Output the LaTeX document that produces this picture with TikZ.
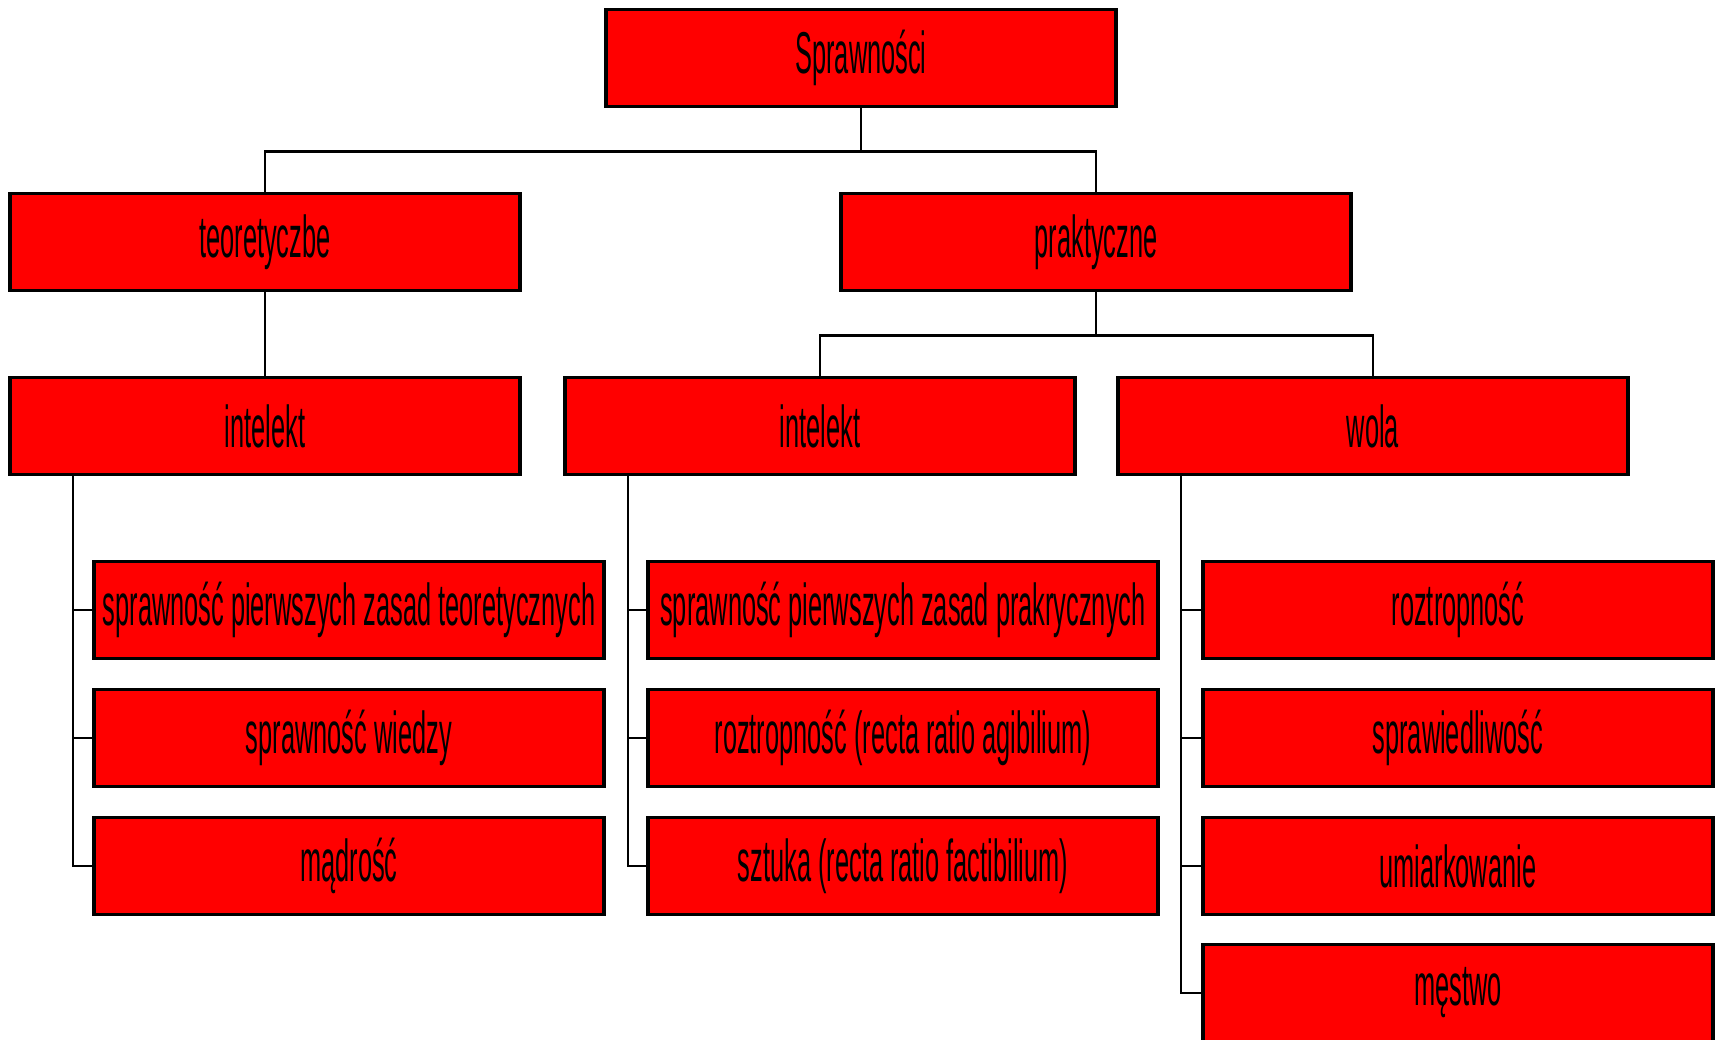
\documentclass[tikz,border=0pt]{standalone}
\usepackage{fontspec}
\newfontfamily\narrowfont{Liberation Sans}[FakeStretch=0.43]
\usepackage{tikz}

\begin{document}
\begin{tikzpicture}
			\tikzstyle{rect} = [rectangle, minimum width=5.1cm, minimum height=0.976cm, inner sep=0pt, text centered, draw=black, line width=0.9pt, fill=red, font=\narrowfont\fontsize{16.8}{18}\selectfont]
			\tikzstyle{line} = [line width=0.7pt]

			\useasboundingbox (0,0) rectangle (17.19,10.40);

			\node (spr) at (8.61,9.82) [rect] {Sprawności};
			\node (teo) at (2.65,7.98) [rect] {teoretyczbe};
			\node (pra) at (10.96,7.98) [rect] {praktyczne};
			\node (int1) at (2.65,6.14) [rect] {intelekt};
			\node (int2) at (8.20,6.14) [rect] {intelekt};
			\node (wola) at (13.73,6.14) [rect] {wola};

			\node (t1) at (3.49,4.30) [rect] {sprawność pierwszych zasad teoretycznych};
			\node (t2) at (3.49,3.02) [rect] {sprawność wiedzy};
			\node (t3) at (3.49,1.74) [rect] {mądrość};

			\node (p1) at (9.03,4.30) [rect] {sprawność pierwszych zasad prakrycznych};
			\node (p2) at (9.03,3.02) [rect] {roztropność (recta ratio agibilium)};
			\node (p3) at (9.03,1.74) [rect] {sztuka (recta ratio factibilium)};

			\node (w1) at (14.58,4.30) [rect] {roztropność};
			\node (w2) at (14.58,3.02) [rect] {sprawiedliwość};
			\node (w3) at (14.58,1.74) [rect] {umiarkowanie};
			\node (w4) at (14.58,0.47) [rect] {męstwo};

			\draw [line] (spr.south) -- ++(0,-0.43) -| (teo.north);
			\draw [line] (spr.south) ++(0,-0.43) -| (pra.north);
			\draw [line] (teo) -- (int1);
			\draw [line] (pra.south) -- ++(0,-0.43) -| (int2.north);
			\draw [line] (pra.south) ++(0,-0.43) -| (wola.north);

			\foreach \leaf in {t1,t2,t3}
				\draw [line] (int1.south west) ++(0.645,0) |- (\leaf.west);
			\foreach \leaf in {p1,p2,p3}
				\draw [line] (int2.south west) ++(0.645,0) |- (\leaf.west);
			\foreach \leaf in {w1,w2,w3,w4}
				\draw [line] (wola.south west) ++(0.645,0) |- (\leaf.west);

		\end{tikzpicture}
\end{document}
